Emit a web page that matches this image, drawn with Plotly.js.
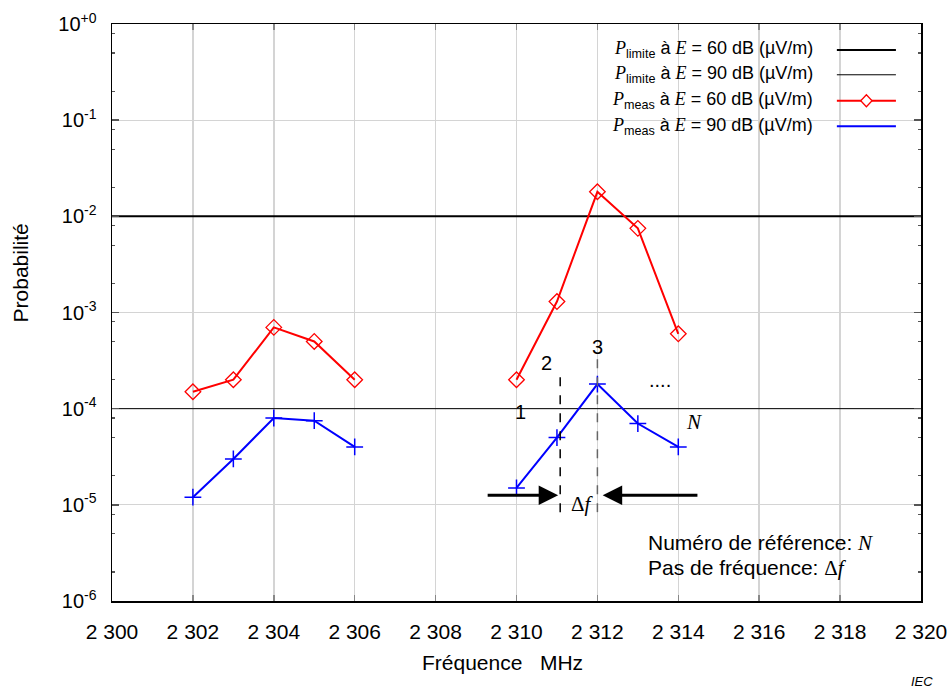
<!DOCTYPE html>
<html>
<head>
<meta charset="utf-8">
<script src="https://cdn.plot.ly/plotly-3.0.1.min.js"></script>
<style>html,body{margin:0;padding:0;background:#fff;}#chart{width:947px;height:688px;}</style>
</head>
<body>
<div id="chart"></div>
<script>
// ---- data ----
const freqLeft = [2302, 2303, 2304, 2305, 2306];
const freqRight = [2310, 2311, 2312, 2313, 2314];
const meas60Left = [1.5e-4, 2e-4, 7e-4, 5e-4, 2e-4];
const meas60Right = [2e-4, 1.3e-3, 1.8e-2, 7.5e-3, 6e-4];
const meas90Left = [1.2e-5, 3e-5, 8e-5, 7.5e-5, 4e-5];
const meas90Right = [1.5e-5, 5e-5, 1.8e-4, 7e-5, 4e-5];
const limitRange = [2300, 2320];
const limit60 = 1e-2;
const limit90 = 1e-4;
const xTickVals = [2300, 2302, 2304, 2306, 2308, 2310, 2312, 2314, 2316, 2318, 2320];
const xTickText = ["2 300", "2 302", "2 304", "2 306", "2 308", "2 310", "2 312", "2 314", "2 316", "2 318", "2 320"];
const yTickVals = [1, 1e-1, 1e-2, 1e-3, 1e-4, 1e-5, 1e-6];
const yTickText = ["10<sup>+0</sup>", "10<sup>-1</sup>", "10<sup>-2</sup>", "10<sup>-3</sup>", "10<sup>-4</sup>", "10<sup>-5</sup>", "10<sup>-6</sup>"];
const yMinorVals = [];
for (let e = -6; e < 0; e++) { [2, 5, 8].forEach(m => yMinorVals.push(m * Math.pow(10, e))); }

const SANS = "Liberation Sans, Arial, sans-serif";
const SERIF = "Liberation Serif";
const si = t => `<span style="font-family:${SERIF}"><i>${t}</i></span>`;

const traces = [
  {x: limitRange, y: [limit60, limit60], mode: 'lines', line: {color: '#000', width: 2}, hoverinfo: 'skip'},
  {x: limitRange, y: [limit90, limit90], mode: 'lines', line: {color: '#000', width: 1}, hoverinfo: 'skip'},
  {x: freqLeft, y: meas60Left, mode: 'lines+markers', line: {color: '#ff0000', width: 2},
   marker: {symbol: 'diamond-open', size: 12, color: '#ff0000', line: {width: 1.3, color: '#ff0000'}}},
  {x: freqRight, y: meas60Right, mode: 'lines+markers', line: {color: '#ff0000', width: 2},
   marker: {symbol: 'diamond-open', size: 12, color: '#ff0000', line: {width: 1.3, color: '#ff0000'}}},
  {x: freqLeft, y: meas90Left, mode: 'lines+markers', line: {color: '#0000ff', width: 2},
   marker: {symbol: 'cross-thin-open', size: 12, color: '#0000ff', line: {width: 1.5, color: '#0000ff'}}},
  {x: freqRight, y: meas90Right, mode: 'lines+markers', line: {color: '#0000ff', width: 2},
   marker: {symbol: 'cross-thin-open', size: 12, color: '#0000ff', line: {width: 1.5, color: '#0000ff'}}}
];

// legend built from shapes/annotations (text left, sample right)
const legendRows = [0.955, 0.912, 0.867, 0.823];
const legendTexts = [
  `${si('P')}<sub>limite</sub> à ${si('E')} = 60 dB (µV/m)`,
  `${si('P')}<sub>limite</sub> à ${si('E')} = 90 dB (µV/m)`,
  `${si('P')}<sub>meas</sub> à ${si('E')} = 60 dB (µV/m)`,
  `${si('P')}<sub>meas</sub> à ${si('E')} = 90 dB (µV/m)`
];
const legendColors = ['#000', '#000', '#ff0000', '#0000ff'];
const legendWidths = [2, 1, 2, 2];

const shapes = [
  {type: 'rect', xref: 'paper', yref: 'paper', x0: 0.8075, x1: 0.984, y0: 0.804, y1: 0.991, fillcolor: '#fff', line: {width: 0}, layer: 'between'},
  {type: 'line', xref: 'x', yref: 'paper', x0: 2311.08, x1: 2311.08, y0: 0.154, y1: 0.400, line: {color: '#000', width: 1.5, dash: 'dash'}},
  {type: 'line', xref: 'x', yref: 'paper', x0: 2312, x1: 2312, y0: 0.154, y1: 0.426, line: {color: '#666', width: 1.5, dash: 'dash'}}
];
legendRows.forEach((y, i) => {
  shapes.push({type: 'line', xref: 'paper', yref: 'paper', x0: 0.896, x1: 0.969, y0: y, y1: y, line: {color: legendColors[i], width: legendWidths[i]}});
});
// diamond sample for the red legend row
shapes.push({type: 'path', xref: 'paper', yref: 'paper',
  path: `M 0.9255 ${legendRows[2]} L 0.9325 ${legendRows[2] + 0.0104} L 0.9395 ${legendRows[2]} L 0.9325 ${legendRows[2] - 0.0104} Z`,
  fillcolor: '#fff', line: {color: '#ff0000', width: 1.3}});

const annotations = [];
legendRows.forEach((y, i) => {
  annotations.push({xref: 'paper', yref: 'paper', x: 0.869, y: y, xanchor: 'right', yanchor: 'middle',
    text: legendTexts[i], showarrow: false, font: {family: SANS, size: 18, color: '#000'}});
});

const labelX = [2310.09, 2310.73, 2312.01, 2313.55];
const labelY = [-4.03, -3.52, -3.36, -3.70];
const labelT = ['1', '2', '3', '....'];
labelT.forEach((t, i) => {
  annotations.push({x: labelX[i], y: labelY[i], text: t, showarrow: false, font: {family: SANS, size: 20, color: '#000'}});
});
annotations.push({x: 2314.39, y: -4.14, text: si('N'), showarrow: false, font: {family: SANS, size: 21, color: '#000'}});
annotations.push({x: 2311.64, y: -4.99, text: `<span style="font-family:${SERIF}">Δ<i>f</i></span>`, showarrow: false, font: {family: SANS, size: 21, color: '#000'}});
// arrows
annotations.push({x: 2311.03, y: -4.90, ax: 2309.25, ay: -4.90, axref: 'x', ayref: 'y', text: '', showarrow: true,
  arrowhead: 2, arrowsize: 1.3, arrowwidth: 3, arrowcolor: '#000'});
annotations.push({x: 2312.13, y: -4.90, ax: 2314.51, ay: -4.90, axref: 'x', ayref: 'y', text: '', showarrow: true,
  arrowhead: 2, arrowsize: 1.3, arrowwidth: 3, arrowcolor: '#000'});
// notes
annotations.push({xref: 'paper', yref: 'paper', x: 0.660, y: 0.1005, xanchor: 'left', yanchor: 'middle',
  text: `Numéro de référence: ${si('N')}`, showarrow: false, font: {family: SANS, size: 21, color: '#000'}});
annotations.push({xref: 'paper', yref: 'paper', x: 0.660, y: 0.057, xanchor: 'left', yanchor: 'middle',
  text: `Pas de fréquence: <span style="font-family:${SERIF}">Δ<i>f</i></span>`, showarrow: false, font: {family: SANS, size: 21, color: '#000'}});
annotations.push({xref: 'paper', yref: 'paper', x: 1.001, y: -0.139, xanchor: 'center', yanchor: 'middle',
  text: '<i>IEC</i>', showarrow: false, font: {family: SANS, size: 13, color: '#000'}});
// axis titles
annotations.push({xref: 'paper', yref: 'paper', x: 0.483, y: -0.106, xanchor: 'center', yanchor: 'middle',
  text: 'Fréquence\u00a0\u00a0\u00a0MHz', showarrow: false, font: {family: SANS, size: 21, color: '#000'}});
annotations.push({xref: 'paper', yref: 'paper', x: -0.1135, y: 0.568, xanchor: 'center', yanchor: 'middle', textangle: -90,
  text: 'Probabilité', showarrow: false, font: {family: SANS, size: 21, color: '#000'}});

const layout = {
  width: 947, height: 688,
  margin: {l: 112, r: 26, t: 24, b: 87, pad: 0},
  paper_bgcolor: '#fff', plot_bgcolor: '#fff',
  showlegend: false,
  font: {family: SANS, size: 21, color: '#000'},
  xaxis: {
    range: [2300, 2320], tickvals: xTickVals, ticktext: xTickText,
    showgrid: true, gridcolor: '#d4d4d4', gridwidth: 1.5,
    showline: true, linecolor: '#000', linewidth: 1.5, mirror: 'ticks',
    ticks: 'inside', ticklen: 6, tickcolor: '#888', tickwidth: 1.5,
    ticklabelstandoff: 11, ticklabeloverflow: 'allow', zeroline: false,
    tickfont: {family: SANS, size: 21}
  },
  yaxis: {
    type: 'log', range: [-6, 0], tickvals: yTickVals, ticktext: yTickText,
    showgrid: true, gridcolor: '#d4d4d4', gridwidth: 1.2,
    showline: true, linecolor: '#000', linewidth: 1.5, mirror: 'ticks',
    ticks: 'inside', ticklen: 7, tickcolor: '#555', tickwidth: 1.5,
    minor: {tickvals: yMinorVals, ticks: 'inside', ticklen: 3, tickcolor: '#555', tickwidth: 1.2, showgrid: false},
    ticklabelstandoff: 10, ticklabeloverflow: 'allow', zeroline: false,
    tickfont: {family: SANS, size: 20}
  },
  shapes: shapes,
  annotations: annotations
};

Plotly.newPlot('chart', traces, layout, {displayModeBar: false, staticPlot: true});
</script>
</body>
</html>
